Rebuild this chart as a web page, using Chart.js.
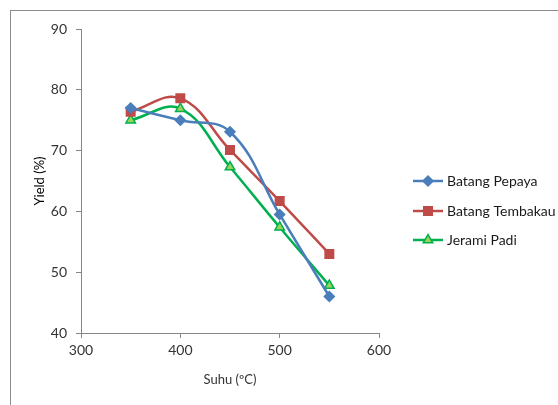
<!DOCTYPE html>
<html lang="en">
<head>
    <meta charset="UTF-8">
    <script src="https://cdn.jsdelivr.net/npm/chart.js"></script>
    <style>
        body { margin: 0; background: #fff; }
        #wrap { width: 558px; height: 405px; position: relative; }
    </style>
</head>
<body>
    <div id="wrap"><canvas id="myChart1" width="558" height="405"></canvas></div>

    <script>
        var suhu = [350, 400, 450, 500, 550];
        var seriesName = ['Batang Pepaya', 'Batang Tembakau', 'Jerami Padi'];
        var pepaya = [77.0, 75.0, 73.1, 59.5, 46.0];
        var tembakau = [76.4, 78.6, 70.1, 61.7, 53.0];
        var jerami = [75.0, 76.9, 67.3, 57.4, 47.8];
        var xTicks = [300, 400, 500, 600];
        var yTicks = [40, 50, 60, 70, 80, 90];

        var fontName = 'Lato';

        var toPoints = function(vals){
            return suhu.map((x, i) => ({x: x, y: vals[i]}));
        }

        // kotak luar + legend manual (garis + marker seperti Excel)
        var excelLegend = {
            id: 'excelLegend',
            beforeDraw: function(chart){
                var c = chart.ctx;
                c.save();
                c.strokeStyle = '#8c8c8c';
                c.lineWidth = 1;
                c.strokeRect(10.5, 10.5, 600, 600);
                c.restore();
            },
            afterDraw: function(chart){
                var c = chart.ctx;
                var rows = [181, 211, 240];
                chart.data.datasets.forEach((ds, i) => {
                    var y = rows[i];
                    c.save();
                    c.strokeStyle = ds.borderColor;
                    c.lineWidth = 2.5;
                    c.beginPath();
                    c.moveTo(413, y);
                    c.lineTo(443, y);
                    c.stroke();
                    c.fillStyle = ds.pointBackgroundColor;
                    c.strokeStyle = ds.pointBorderColor;
                    c.lineWidth = 1.5;
                    Chart.helpers.drawPoint(c, {
                        pointStyle: ds.pointStyle,
                        radius: ds.pointRadius,
                        borderWidth: 1.5
                    }, 428, y);
                    c.fillStyle = '#1a1a1a';
                    c.font = '14px ' + fontName;
                    c.textBaseline = 'middle';
                    c.fillText(ds.label, 447, y);
                    c.restore();
                });
            }
        };

        var makeSet = function(name, vals, col, fill, style, r){
            return {
                label: name,
                data: toPoints(vals),
                borderColor: col,
                backgroundColor: fill,
                pointBackgroundColor: fill,
                pointBorderColor: col,
                pointStyle: style,
                pointRadius: r,
                pointBorderWidth: 1.5,
                borderWidth: 2.5,
                showLine: true,
                tension: 0.4,
                fill: false
            };
        }

        const ctx1 = document.getElementById("myChart1").getContext("2d");
        new Chart(ctx1, {
            type: "scatter",
            data: {
                datasets: [
                    makeSet(seriesName[0], pepaya, '#4a7ebb', '#4a7ebb', 'rectRot', 5),
                    makeSet(seriesName[1], tembakau, '#be4b48', '#be4b48', 'rect', 6),
                    makeSet(seriesName[2], jerami, '#00b050', '#9bd35a', 'triangle', 5.5),
                ],
            },
            plugins: [excelLegend],
            options: {
                responsive: false,
                animation: false,
                layout: { padding: { left: 0, top: 29, right: 179, bottom: 0 } },
                scales: {
                    x: {
                        type: 'linear',
                        min: 300,
                        max: 600,
                        afterBuildTicks: function(scale){
                            scale.ticks = xTicks.map(v => ({value: v}));
                        },
                        afterFit: function(scale){ scale.height = 72; },
                        grid: { drawOnChartArea: false, tickLength: 5, color: '#868686' },
                        border: { color: '#868686' },
                        ticks: { color: '#333', font: { family: fontName, size: 14 }, padding: 4 },
                        title: { display: true, text: 'Suhu (ºC)', color: '#333', font: { family: fontName, size: 13 }, padding: { top: 4, bottom: 17 } }
                    },
                    y: {
                        min: 40,
                        max: 90,
                        afterBuildTicks: function(scale){
                            scale.ticks = yTicks.map(v => ({value: v}));
                        },
                        afterFit: function(scale){ scale.width = 81; },
                        grid: { drawOnChartArea: false, tickLength: 5, color: '#868686' },
                        border: { color: '#868686' },
                        ticks: { color: '#333', font: { family: fontName, size: 14 }, padding: 9 },
                        title: { display: true, text: 'Yield (%)', color: '#000', font: { family: fontName, size: 13 }, padding: { top: 32, bottom: 4 } }
                    }
                },
                plugins: {
                    legend: { display: false },
                    tooltip: { enabled: false }
                },
            },
        });
    </script>
</body>
</html>
